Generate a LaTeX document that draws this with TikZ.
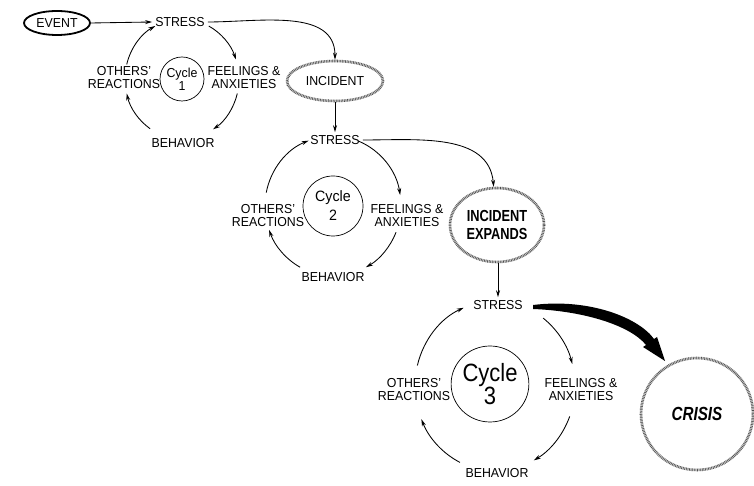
\documentclass[tikz,border=0pt]{standalone}
\usepackage{fontspec}
\setmainfont[FakeStretch=0.95]{Liberation Sans}
\newfontfamily\narrowfam[FakeStretch=0.8]{Liberation Sans}
\usetikzlibrary{shapes.geometric,arrows.meta}
\begin{document}
\begin{tikzpicture}[x=1pt,y=1pt,
  lbl/.style={font=\fontsize{13}{13}\selectfont, align=center, inner sep=3pt},
  arr/.style={line width=0.85pt, -{Stealth[length=7pt,width=4pt]}},
  cyc/.style={draw, ellipse, line width=0.7pt, align=center, inner sep=0pt},
  hatchline/.style={draw=black!18, line width=2.6pt,
    postaction={draw=black!70, line width=2.6pt, dash pattern=on 0.6pt off 1pt}}
]
\useasboundingbox (0,0) rectangle (754,486);

% ---------- Cycle 1 ----------
\node[ellipse, draw, line width=1.8pt, minimum width=66pt, minimum height=24pt,
      inner sep=0pt, font=\fontsize{13}{13}\selectfont] (ev) at (57,463) {EVENT};
\node[lbl] (s1) at (180,464) {STRESS};
\node[cyc, minimum width=44pt, minimum height=44pt, font=\fontsize{13}{13}\selectfont] (c1) at (182,407) {Cycle\\1};
\node[lbl] (o1) at (124,408) {OTHERS'\\REACTIONS};
\node[lbl] (f1) at (244,408) {FEELINGS \&\\ANXIETIES};
\node[lbl] (b1) at (183,343) {BEHAVIOR};

\draw[arr] (ev.east) -- (s1.west);
\draw[arr] (c1.center) ++(166:57pt and 60pt) arc[start angle=166, end angle=118, x radius=57pt, y radius=60pt];
\draw[arr] (c1.center) ++(62:57pt and 60pt) arc[start angle=62, end angle=19, x radius=57pt, y radius=60pt];
\draw[arr] (c1.center) ++(-14:57pt and 60pt) arc[start angle=-14, end angle=-57, x radius=57pt, y radius=60pt];
\draw[arr] (c1.center) ++(-124:57pt and 60pt) arc[start angle=-124, end angle=-166, x radius=57pt, y radius=60pt];

% ---------- Incident ----------
\node[ellipse, hatchline, minimum width=96pt, minimum height=40pt, inner sep=0pt,
      font=\fontsize{13}{13}\selectfont] (inc) at (335,405) {INCIDENT};
\draw[arr] (s1.east) to[out=0, in=90] (inc.north);

% ---------- Cycle 2 ----------
\node[lbl] (s2) at (335,346) {STRESS};
\node[cyc, minimum width=60pt, minimum height=60pt, font=\fontsize{15}{19}\selectfont] (c2) at (333,280) {Cycle\\2};
\node[lbl] (o2) at (268,270) {OTHERS'\\REACTIONS};
\node[lbl] (f2) at (407,270) {FEELINGS \&\\ANXIETIES};
\node[lbl] (b2) at (333,209) {BEHAVIOR};

\draw[arr] (inc.south) -- (s2.north);
\draw[arr] (c2.center) ++(169:68pt and 70pt) arc[start angle=169, end angle=111, x radius=68pt, y radius=70pt];
\draw[arr] (c2.center) ++(68:68pt and 70pt) arc[start angle=68, end angle=9, x radius=68pt, y radius=70pt];
\draw[arr] (c2.center) ++(-22:68pt and 70pt) arc[start angle=-22, end angle=-61, x radius=68pt, y radius=70pt];
\draw[arr] (c2.center) ++(-119:68pt and 70pt) arc[start angle=-119, end angle=-160, x radius=68pt, y radius=70pt];

% ---------- Incident expands ----------
\node[ellipse, hatchline, minimum width=94pt, minimum height=74pt, inner sep=0pt, align=center,
      font=\narrowfam\bfseries\fontsize{16}{18}\selectfont] (ie) at (497,261) {INCIDENT\\EXPANDS};
\draw[arr] (s2.east) to[out=0, in=95] (ie.95);

% ---------- Cycle 3 ----------
\node[lbl] (s3) at (498,181) {STRESS};
\node[cyc, minimum width=66pt, minimum height=76pt, font=\fontsize{25}{23}\selectfont\addfontfeatures{FakeStretch=0.88}] (c3) at (490,102) {Cycle\\3};
\node[lbl] (o3) at (414,96) {OTHERS'\\REACTIONS};
\node[lbl] (f3) at (581,96) {FEELINGS \&\\ANXIETIES};
\node[lbl] (b3) at (497,13) {BEHAVIOR};

\draw[arr] (ie.south -| s3.north) -- (s3.north);
\draw[arr] (495,100) ++(166:80pt and 85pt) arc[start angle=166, end angle=113, x radius=80pt, y radius=85pt];
\draw[arr] (495,100) ++(53:80pt and 85pt) arc[start angle=53, end angle=15, x radius=80pt, y radius=85pt];
\draw[arr] (495,100) ++(-21:80pt and 85pt) arc[start angle=-21, end angle=-61, x radius=80pt, y radius=85pt];
\draw[arr] (495,100) ++(-116:80pt and 85pt) arc[start angle=-116, end angle=-157, x radius=80pt, y radius=85pt];

% ---------- Crisis ----------
\node[circle, hatchline, fill=white, minimum size=112pt, inner sep=0pt,
      font=\narrowfam\bfseries\itshape\fontsize{19}{19}\selectfont] (cr) at (697,72) {CRISIS};

% thick tapered arrow from STRESS to CRISIS
\fill[black] (533,181) .. controls (590,188) and (639,168) .. (654,147)
  -- (657,149) -- (665,125) -- (643,139) -- (646,141)
  .. controls (631,160) and (585,175) .. (533,177) -- cycle;
\end{tikzpicture}
\end{document}
